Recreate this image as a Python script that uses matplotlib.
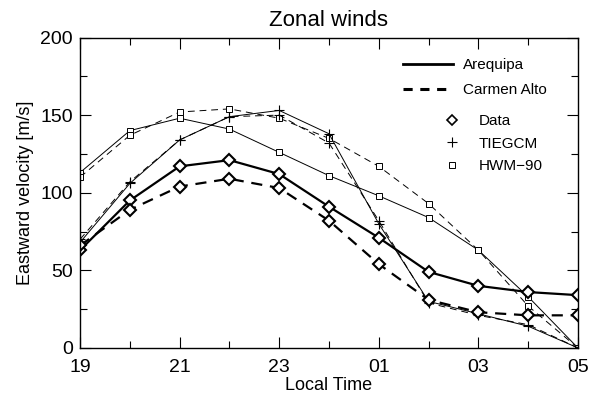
import numpy as np
import matplotlib.pyplot as plt
from matplotlib.lines import Line2D
from matplotlib.ticker import MultipleLocator

plt.rcParams['font.family'] = ['Liberation Sans', 'DejaVu Sans']

#--- values ---
hours = ['19', '20', '21', '22', '23', '00', '01', '02', '03', '04', '05']
tick_labels = ['19', '21', '23', '01', '03', '05']

are_data = [63, 95, 117, 121, 112, 91, 71, 49, 40, 36, 34]
car_data = [66, 89, 104, 109, 103, 82, 54, 31, 23, 21, 21]
are_tie = [68, 106, 134, 149, 153, 138, 80, 30, 22, 14, 0]
car_tie = [70, 107, 134, 149, 150, 132, 82, 29, 21, 15, 0]
are_hwm = [113, 140, 148, 141, 126, 111, 98, 84, 63, 33, 0]
car_hwm = [110, 137, 152, 154, 148, 135, 117, 93, 63, 27, 0]

x = np.arange(len(hours))

fig = plt.figure(figsize=(6.02, 3.99), dpi=100)
ax = fig.add_axes([0.133, 0.128, 0.827, 0.778])

thin_dash = (0, (7, 5))
thick_dash = (0, (5, 3.5))

# models first (thin), data on top (thick)
ax.plot(x, are_hwm, '-', color='k', lw=0.7, marker='s', ms=4.5, mfc='white', mew=0.7)
ax.plot(x, car_hwm, color='k', lw=0.7, ls=thin_dash, marker='s', ms=4.5, mfc='white', mew=0.7)
ax.plot(x, are_tie, '-', color='k', lw=0.7, marker='+', ms=7, mew=0.8)
ax.plot(x, car_tie, color='k', lw=0.7, ls=thin_dash, marker='+', ms=7, mew=0.8)
ax.plot(x, are_data, '-', color='k', lw=1.6, marker='D', ms=6.5, mfc='white', mew=1.5)
ax.plot(x, car_data, color='k', lw=1.6, ls=thick_dash, marker='D', ms=6.5, mfc='white', mew=1.5)

ax.set_xlim(0, 10)
ax.set_ylim(0, 200)
ax.set_xticks(x[::2])
ax.set_xticklabels(tick_labels)
ax.xaxis.set_minor_locator(MultipleLocator(1))
ax.yaxis.set_major_locator(MultipleLocator(50))
ax.yaxis.set_minor_locator(MultipleLocator(25))
ax.tick_params(which='both', direction='in', top=True, right=True, labelsize=14)
ax.tick_params(axis='x', which='both', pad=8)
ax.tick_params(axis='y', which='both', pad=5)
ax.tick_params(which='major', length=8, width=0.8)
ax.tick_params(which='minor', length=5, width=0.8)
for s in ax.spines.values():
    s.set_linewidth(1.0)

ax.set_title('Zonal winds', fontsize=16, pad=8)
ax.set_xlabel('Local Time', fontsize=13, labelpad=1)
ax.set_ylabel('Eastward velocity [m/s]', fontsize=13, labelpad=5)

# legend: stations (line styles) and sources (symbols)
h1 = [Line2D([], [], color='k', lw=2),
      Line2D([], [], color='k', lw=2.2, ls=(0, (3, 2.5)))]
leg1 = ax.legend(h1, ['Arequipa', 'Carmen Alto'], loc='upper left',
                 bbox_to_anchor=(0.622, 0.977), frameon=False, fontsize=11,
                 handlelength=3.27, handletextpad=0.65, labelspacing=0.72)
ax.add_artist(leg1)
h2 = [Line2D([], [], ls='none', color='k', marker='D', ms=5.5, mfc='white', mew=1.2),
      Line2D([], [], ls='none', color='k', marker='+', ms=7, mew=0.8),
      Line2D([], [], ls='none', color='k', marker='s', ms=4.5, mfc='white', mew=0.7)]
ax.legend(h2, ['Data', 'TIEGCM', 'HWM\u221290'], loc='upper left',
          bbox_to_anchor=(0.704, 0.797), frameon=False, fontsize=11,
          handlelength=1.0, handletextpad=1.27, labelspacing=0.55)

fig.savefig('out.png', dpi=100)
